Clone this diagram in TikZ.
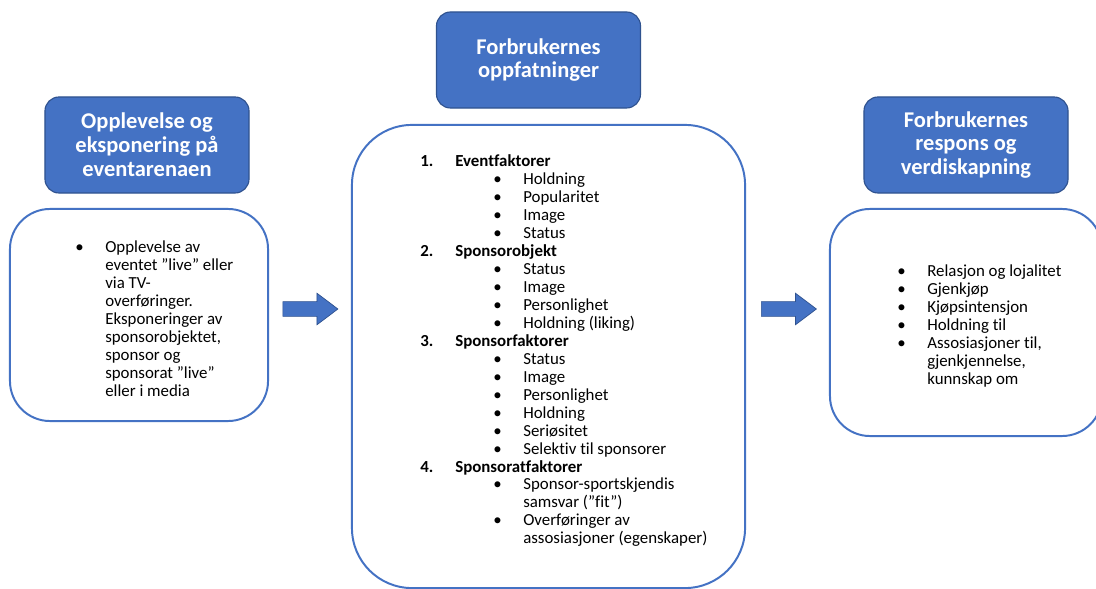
\documentclass[tikz,border=0pt]{standalone}
\usepackage{fontspec}
\setmainfont{Carlito}[Ligatures=NoCommon]
\usetikzlibrary{shapes.arrows}
\definecolor{hdblue}{HTML}{4472C4}
\definecolor{hdedge}{HTML}{2F528F}
\newcommand\headfont{\bfseries\fontsize{16}{17}\selectfont}
\newcommand\listfont{\fontsize{12}{12.76}\selectfont}
\tikzset{
  header/.style={draw=hdedge, line width=0.8pt, fill=hdblue, rounded corners=10pt,
    minimum width=5.1cm, minimum height=2.4cm, text=white, font=\headfont,
    align=center, inner sep=0pt},
  infobox/.style={draw=hdblue, line width=1.4pt, fill=white, inner sep=0pt},
  blockarrow/.style={single arrow, draw=hdedge, line width=0.5pt, fill=hdblue,
    minimum height=1.375cm, inner sep=0.175cm, single arrow head extend=0.21cm,
    single arrow tip angle=74},
  listtext/.style={anchor=base west, inner sep=0pt, font=\listfont}
}
\begin{document}
\begin{tikzpicture}[x=0.025cm,y=-0.025cm]
  \useasboundingbox[fill=white] (0,0) rectangle (1096,589);
  % overskrifter
  \node[header] (h1) at (147,145) {Opplevelse og\\eksponering på\\eventarenaen};
  \node[header] (h2) at (538.5,60) {Forbrukernes\\oppfatninger};
  \node[header] (h3) at (966,145) {Forbrukernes\\respons og\\verdiskapning};
  % bokser
  \node[infobox, minimum width=6.45cm, minimum height=5.3cm, rounded corners=1cm] (b1) at (139,315) {};
  \node[infobox, minimum width=9.825cm, minimum height=11.575cm, rounded corners=1.5cm] (b2) at (548.5,356.5) {};
  \node[infobox, minimum width=6.8cm, minimum height=5.675cm, rounded corners=1cm] (b3) at (966,322.5) {};
  % piler
  \node[blockarrow] (a1) at (305.5,309) {};
  \node[blockarrow] (a2) at (784,309) {};
  % innhold
  \node[listtext] (t1) at (75,253) {%
    \begin{tabular}[t]{@{}p{0.75cm}@{}l@{}}
      • & Opplevelse av\\
        & eventet ”live” eller\\
        & via TV-\\
        & overføringer.\\
        & Eksponeringer av\\
        & sponsorobjektet,\\
        & sponsor og\\
        & sponsorat ”live”\\
        & eller i media
    \end{tabular}};
  \node[listtext] (t2) at (420,167) {%
    \begin{tabular}[t]{@{}p{0.875cm}@{}p{0.95cm}@{}p{0.75cm}@{}l@{}}
      \textbf{1.} & \multicolumn{3}{@{}l@{}}{\textbf{Eventfaktorer}}\\
        & & • & Holdning\\
        & & • & Popularitet\\
        & & • & Image\\
        & & • & Status\\
      \textbf{2.} & \multicolumn{3}{@{}l@{}}{\textbf{Sponsorobjekt}}\\
        & & • & Status\\
        & & • & Image\\
        & & • & Personlighet\\
        & & • & Holdning (liking)\\
      \textbf{3.} & \multicolumn{3}{@{}l@{}}{\textbf{Sponsorfaktorer}}\\
        & & • & Status\\
        & & • & Image\\
        & & • & Personlighet\\
        & & • & Holdning\\
        & & • & Seriøsitet\\
        & & • & Selektiv til sponsorer\\
      \textbf{4.} & \multicolumn{3}{@{}l@{}}{\textbf{Sponsoratfaktorer}}\\
        & & • & Sponsor-sportskjendis\\
        & &   & samsvar (”fit”)\\
        & & • & Overføringer av\\
        & &   & assosiasjoner (egenskaper)
    \end{tabular}};
  \node[listtext] (t3) at (897,277) {%
    \begin{tabular}[t]{@{}p{0.75cm}@{}l@{}}
      • & Relasjon og lojalitet\\
      • & Gjenkjøp\\
      • & Kjøpsintensjon\\
      • & Holdning til\\
      • & Assosiasjoner til,\\
        & gjenkjennelse,\\
        & kunnskap om
    \end{tabular}};
\end{tikzpicture}
\end{document}
